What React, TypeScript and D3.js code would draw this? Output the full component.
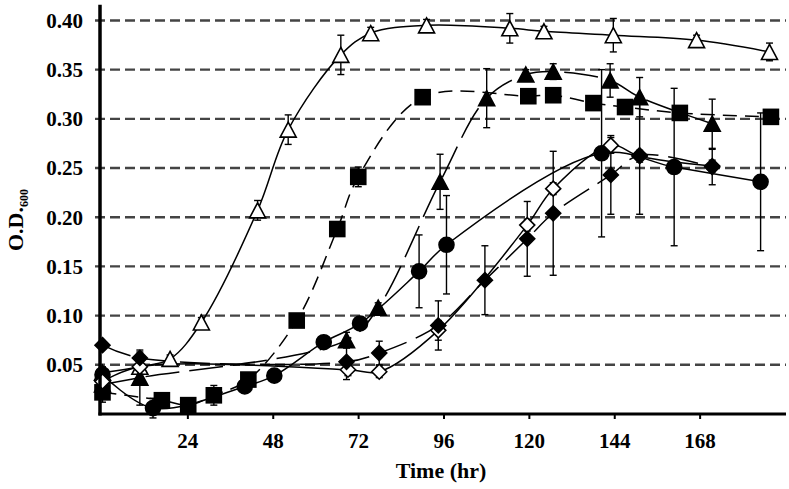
import React from 'react';
import * as d3 from 'd3';

// open triangle, solid line
const triOpenHr = [0, 10.5, 19, 27.8, 43.6, 52.2, 67, 75.4, 91.1, 114.5, 124.1, 143.6, 167, 187.5];
const triOpenOD = [0.042, 0.048, 0.056, 0.093, 0.207, 0.289, 0.365, 0.387, 0.395, 0.392, 0.389, 0.385, 0.380, 0.368];
const triOpenErr = [0.004, 0.004, 0.004, 0.005, 0.01, 0.015, 0.02, 0.006, 0.006, 0.015, 0.005, 0.017, 0.005, 0.009];

// filled square, dashed
const sqHr = [0, 16.7, 24.1, 31.3, 41, 54.6, 66, 71.9, 90, 119.7, 126.7, 138, 146.9, 162.3, 187.9];
const sqOD = [0.022, 0.014, 0.009, 0.019, 0.035, 0.095, 0.188, 0.241, 0.322, 0.323, 0.324, 0.316, 0.312, 0.306, 0.302];
const sqErr = [0.01, 0.004, 0.004, 0.01, 0.006, 0.004, 0.006, 0.01, 0.004, 0.004, 0.004, 0.004, 0.004, 0.004, 0.004];

// filled triangle, long dash
const triHr = [0, 10.5, 68.6, 77.5, 94.9, 108, 119, 126.7, 142.7, 151, 171.4];
const triOD = [0.03, 0.037, 0.075, 0.108, 0.236, 0.321, 0.345, 0.348, 0.339, 0.322, 0.295];
const triErr = [0.006, 0.028, 0.008, 0.005, 0.028, 0.03, 0.005, 0.008, 0.017, 0.02, 0.025];

// filled circle, solid
const circHr = [0, 14.2, 40, 48.3, 62.2, 72.4, 89, 96.7, 140.3, 160.7, 185];
const circOD = [0.040, 0.006, 0.028, 0.039, 0.073, 0.092, 0.145, 0.172, 0.265, 0.251, 0.236];
const circErr = [0.008, 0.01, 0.005, 0.006, 0.004, 0.006, 0.037, 0.05, 0.085, 0.08, 0.07];

// open diamond, solid
const dOpenHr = [0, 10.5, 69, 77.8, 94.4, 119.4, 126.7, 142.9, 151, 171.4];
const dOpenOD = [0.033, 0.048, 0.045, 0.043, 0.085, 0.192, 0.229, 0.273, 0.262, 0.252];
const dOpenErr = [0.005, 0.006, 0.006, 0.006, 0.01, 0.006, 0.006, 0.008, 0.006, 0.006];

// filled diamond, long dash
const dHr = [0, 10.5, 68.6, 77.8, 94.4, 107.5, 119.4, 126.7, 142.9, 151, 171.4];
const dOD = [0.070, 0.057, 0.053, 0.062, 0.090, 0.136, 0.178, 0.204, 0.243, 0.263, 0.251];
const dErr = [0.004, 0.006, 0.018, 0.012, 0.025, 0.035, 0.038, 0.063, 0.04, 0.06, 0.018];

const yTicks = [0.05, 0.10, 0.15, 0.20, 0.25, 0.30, 0.35, 0.40];
const xTicks = [24, 48, 72, 96, 120, 144, 168];

const W = 789;
const H = 489;
const FONT = '"Liberation Serif", "Times New Roman", serif';

const x = d3.scaleLinear().domain([-0.7, 192]).range([100, 785.5]);
const y = d3.scaleLinear().domain([0, 0.416]).range([414, 4.7]);

type Shape = 'tri' | 'sq' | 'circ' | 'dia';
const series = [
    { hr: triOpenHr, od: triOpenOD, err: triOpenErr, shape: 'tri' as Shape, fill: '#fff', dash: null },
    { hr: sqHr, od: sqOD, err: sqErr, shape: 'sq' as Shape, fill: '#000', dash: '14,8' },
    { hr: triHr, od: triOD, err: triErr, shape: 'tri' as Shape, fill: '#000', dash: '34,10' },
    { hr: circHr, od: circOD, err: circErr, shape: 'circ' as Shape, fill: '#000', dash: null },
    { hr: dOpenHr, od: dOpenOD, err: dOpenErr, shape: 'dia' as Shape, fill: '#fff', dash: null },
    { hr: dHr, od: dOD, err: dErr, shape: 'dia' as Shape, fill: '#000', dash: '30,10' },
];

const line = d3.line<[number, number]>()
    .curve(d3.curveCatmullRom.alpha(0.5))
    .x(d => x(d[0]))
    .y(d => y(d[1]));

const Marker = ({ shape, cx, cy, fill }: { shape: Shape; cx: number; cy: number; fill: string }) => {
    const common = { fill, stroke: '#000', strokeWidth: 1.6 };
    if (shape === 'circ') return <circle cx={cx} cy={cy} r={7.5} {...common} />;
    if (shape === 'sq') return <rect x={cx - 7.5} y={cy - 7.5} width={15} height={15} {...common} />;
    if (shape === 'dia') {
        const r = 7.5;
        return <path d={`M${cx},${cy - r}L${cx + r},${cy}L${cx},${cy + r}L${cx - r},${cy}Z`} {...common} />;
    }
    const hw = 8, hh = 7.5;
    return <path d={`M${cx},${cy - hh}L${cx + hw},${cy + hh}L${cx - hw},${cy + hh}Z`} {...common} />;
};

export default function App() {
    const left = x(-0.7);
    const right = 786;
    return (
        <svg width={W} height={H} style={{ position: 'absolute', left: 0, top: 0, background: '#fff' }}>
            {/* grid */}
            {yTicks.map(t => (
                <line key={t} x1={left - 5} x2={right} y1={y(t)} y2={y(t)}
                    stroke="#444" strokeWidth={2.4} strokeDasharray="10,5" />
            ))}

            {/* series lines */}
            {series.map((s, i) => (
                <path key={`l${i}`} d={line(s.hr.map((h, j) => [h, s.od[j]] as [number, number])) || ''}
                    fill="none" stroke="#000" strokeWidth={1.5}
                    strokeDasharray={s.dash || undefined} />
            ))}

            {/* error bars */}
            {series.map((s, i) => (
                <g key={`e${i}`} stroke="#000" strokeWidth={1.4}>
                    {s.hr.map((h, j) => {
                        const cx = x(h);
                        const y1 = y(s.od[j] + s.err[j]);
                        const y2 = y(s.od[j] - s.err[j]);
                        return (
                            <g key={j}>
                                <line x1={cx} x2={cx} y1={y1} y2={y2} />
                                <line x1={cx - 3.5} x2={cx + 3.5} y1={y1} y2={y1} />
                                <line x1={cx - 3.5} x2={cx + 3.5} y1={y2} y2={y2} />
                            </g>
                        );
                    })}
                </g>
            ))}

            {/* markers */}
            {series.map((s, i) => (
                <g key={`m${i}`}>
                    {s.hr.map((h, j) => (
                        <Marker key={j} shape={s.shape} cx={x(h)} cy={y(s.od[j])} fill={s.fill} />
                    ))}
                </g>
            ))}

            {/* axes */}
            <line x1={left} x2={left} y1={y(0.416)} y2={y(0) + 1.5} stroke="#000" strokeWidth={3.5} />
            <line x1={left - 1.5} x2={right} y1={y(0)} y2={y(0)} stroke="#000" strokeWidth={3} />
            {xTicks.map(t => (
                <line key={t} x1={x(t)} x2={x(t)} y1={y(0)} y2={y(0) + 5} stroke="#000" strokeWidth={2} />
            ))}

            {/* tick labels */}
            <g fontFamily={FONT} fontWeight="bold" fill="#000">
                {yTicks.map(t => (
                    <text key={t} x={83} y={y(t)} dy="0.35em" fontSize={21} textAnchor="end">{t.toFixed(2)}</text>
                ))}
                {xTicks.map(t => (
                    <text key={t} x={x(t)} y={448} fontSize={21} textAnchor="middle">{t}</text>
                ))}
                <text x={441} y={478} fontSize={22} textAnchor="middle">Time (hr)</text>
                <text transform="translate(23,251) rotate(-90)" fontSize={22} textAnchor="start">
                    O.D.<tspan fontSize={12} dy={5}>600</tspan>
                </text>
            </g>
        </svg>
    );
}
